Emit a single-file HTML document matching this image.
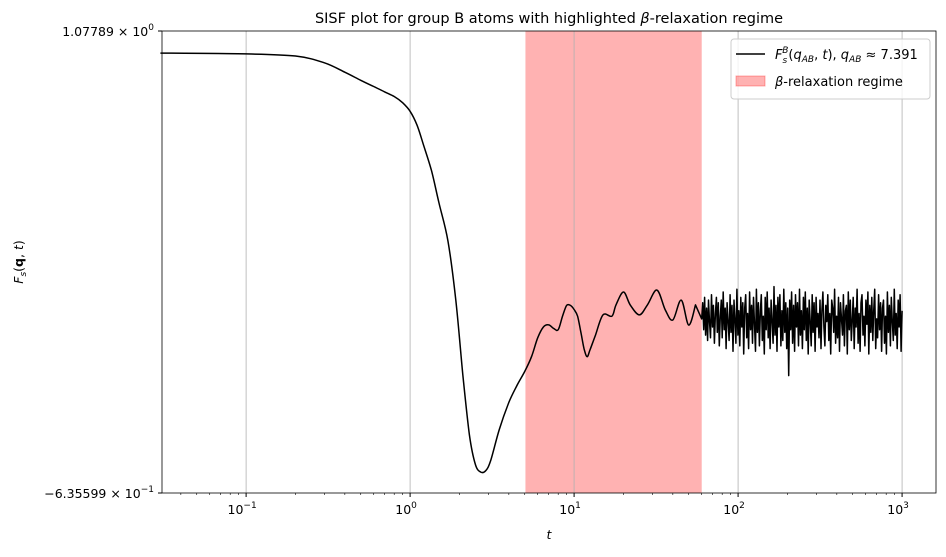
<!DOCTYPE html>
<html><head><meta charset="utf-8"><style>
body{margin:0;background:#fff;font-family:"Liberation Sans","DejaVu Sans",sans-serif}
svg text{font-family:"DejaVu Sans","Liberation Sans",sans-serif}
</style></head><body>
<svg id="c" width="946" height="552"></svg>
<script>
const smoothT=[0.03,0.1,0.2,0.3,0.4,0.5,0.6,0.7,0.8,0.9,1.0,1.1,1.2,1.35,1.5,1.7,1.9,2.1,2.3,2.5,2.7,2.9,3.1,3.5,4.0,4.5,5.0,5.5,6.0,6.5,7.0,7.5,8.0,8.5,9.0,9.5,10.0,10.5,11.0,11.5,12.0,12.5,13.5,15,17,18,20,22,25,28,32,36,40,45,50,55];
const smoothV=[0.996,0.993,0.985,0.960,0.925,0.895,0.872,0.852,0.835,0.812,0.780,0.730,0.660,0.560,0.440,0.300,0.080,-0.200,-0.420,-0.530,-0.558,-0.552,-0.515,-0.400,-0.300,-0.235,-0.185,-0.130,-0.060,-0.020,-0.012,-0.025,-0.030,0.020,0.060,0.060,0.045,0.020,-0.040,-0.100,-0.130,-0.105,-0.050,0.025,0.020,0.062,0.110,0.062,0.025,0.062,0.117,0.043,0.006,0.080,-0.013,0.062];
const noiseV=[0.01,0.07,-0.03,0.09,-0.05,0.05,-0.07,0.08,0.00,-0.06,0.10,-0.02,0.06,-0.08,0.03,0.09,-0.04,0.07,-0.09,0.02,0.08,-0.06,0.11,-0.03,0.05,-0.10,0.07,0.00,-0.07,0.10,-0.04,0.06,-0.11,0.08,0.01,-0.08,0.12,-0.05,0.04,-0.09,0.09,-0.02,0.07,-0.12,0.05,0.10,-0.06,0.03,-0.10,0.11,-0.03,0.06,-0.08,0.09,-0.01,-0.11,0.12,-0.04,0.07,-0.09,0.04,0.10,-0.07,0.02,-0.12,0.09,-0.03,0.11,-0.06,0.05,-0.10,0.08,0.00,-0.08,0.13,-0.05,0.06,-0.11,0.09,-0.02,0.10,-0.09,0.04,-0.07,0.12,-0.04,0.07,-0.10,0.05,-0.20,0.08,-0.03,0.11,-0.08,0.06,-0.11,0.10,-0.02,0.07,-0.09,0.12,-0.05,0.04,-0.10,0.09,-0.03,0.11,-0.07,0.05,-0.12,0.08,0.00,-0.09,0.10,-0.04,0.07,-0.11,0.09,-0.02,0.03,
-0.06,0.08,-0.10,0.04,0.11,-0.02,-0.09,0.06,0.00,0.10,-0.07,0.03,-0.12,0.08,0.05,-0.04,0.12,-0.08,0.02,-0.06,0.09,-0.11,0.07,0.01,-0.05,0.10,-0.09,0.04,0.06,-0.12,0.11,-0.03,0.08,-0.07,0.00,0.09,-0.10,0.05,-0.02,0.12,-0.08,0.03,-0.11,0.07,0.10,-0.05,0.02,-0.09,0.08,-0.01,0.11,-0.12,0.06,-0.04,0.09,-0.07,0.04,0.12,-0.10,0.01,-0.06,0.10,-0.03,0.07,-0.11,0.05,0.08,-0.08,0.02,-0.12,0.11,-0.04,0.06,-0.09,0.09,0.00,-0.07,0.12,-0.05,0.03,-0.10,0.08,-0.02,0.10,-0.11,0.04];
const xTicks=[0.1,1,10,100,1000];
const xTickLabels=["10","10","10","10","10"];
const xTickExp=["−1","0","1","2","3"];
const band=[5.05,60];
const yMin=-0.635599,yMax=1.07789;
const L=162,R=936,T=31,B=493;
const lx0=Math.log10(0.0307),lx1=Math.log10(1610);
const X=t=>L+(Math.log10(t)-lx0)/(lx1-lx0)*(R-L);
const Y=v=>B-(v-yMin)/(yMax-yMin)*(B-T);
const svg=document.getElementById('c');const NS='http://www.w3.org/2000/svg';
function mk(tag,at,p){const e=document.createElementNS(NS,tag);for(const k in at)e.setAttribute(k,at[k]);(p||svg).appendChild(e);return e;}
let e=mk('rect',{x:X(band[0]),y:T,width:X(band[1])-X(band[0]),height:B-T,fill:'#ff0000','fill-opacity':0.3});

xTicks.forEach((t,i)=>{
 let g=mk('line',{x1:X(t),x2:X(t),y1:T,y2:B,stroke:'#b0b0b0','stroke-width':0.8});
 
 let tk=mk('line',{x1:X(t),x2:X(t),y1:B,y2:B+4,stroke:'#000'});
 
 let tx=mk('text',{x:X(t)-4,y:B+21,'font-size':12.5,'text-anchor':'middle'});
 
 tx.textContent=xTickLabels[i];
 let sp=mk('tspan',{dy:-6,'font-size':9},tx);sp.textContent=xTickExp[i];
});
for(let d=-2;d<=3;d++)for(let m=2;m<10;m++){const t=m*Math.pow(10,d);if(t<0.0307||t>1610)continue;
 let mt=mk('line',{x1:X(t),x2:X(t),y1:B,y2:B+2,stroke:'#000','stroke-width':0.6});
 }
// smooth part via Catmull-Rom
const sp=smoothT.map((t,i)=>[X(t),Y(smoothV[i])]);
let d='M'+sp[0][0].toFixed(1)+','+sp[0][1].toFixed(1);
for(let i=0;i<sp.length-1;i++){const p0=sp[Math.max(0,i-1)],p1=sp[i],p2=sp[i+1],p3=sp[Math.min(sp.length-1,i+2)];
 const c1=[p1[0]+(p2[0]-p0[0])/6,p1[1]+(p2[1]-p0[1])/6],c2=[p2[0]-(p3[0]-p1[0])/6,p2[1]-(p3[1]-p1[1])/6];
 d+='C'+c1.map(v=>v.toFixed(1)).join(',')+' '+c2.map(v=>v.toFixed(1)).join(',')+' '+p2.map(v=>v.toFixed(1)).join(',');}
noiseV.forEach((v,i)=>{const t=60*Math.pow(1000/60,i/(noiseV.length-1));d+='L'+X(t).toFixed(1)+','+Y(v).toFixed(1);});
e=mk('path',{d:d,fill:'none',stroke:'#000','stroke-width':1.5,'stroke-linejoin':'round'});

e=mk('rect',{x:L,y:T,width:R-L,height:B-T,fill:'none',stroke:'#000','stroke-width':0.8});

</script>
<svg width="946" height="552" style="position:absolute;left:0;top:0">
<line x1="158" x2="162" y1="31" y2="31" stroke="#000"/>
<line x1="158" x2="162" y1="493" y2="493" stroke="#000"/>
<text x="154" y="36" font-size="12.5" text-anchor="end">1.07789 × 10<tspan dy="-6" font-size="9">0</tspan></text>
<text x="154" y="498" font-size="12.5" text-anchor="end">−6.35599 × 10<tspan dy="-6" font-size="9">−1</tspan></text>
<text x="549" y="23" font-size="14.5" text-anchor="middle">SISF plot for group B atoms with highlighted <tspan font-style="italic">β</tspan>-relaxation regime</text>
<text x="549" y="539" font-size="12.5" font-style="italic" text-anchor="middle">t</text>
<text transform="translate(23,262) rotate(-90)" font-size="12.5" text-anchor="middle"><tspan font-style="italic">F</tspan><tspan font-size="9" dy="3" font-style="italic">s</tspan><tspan dy="-3">(</tspan><tspan font-weight="bold">q</tspan>, <tspan font-style="italic">t</tspan>)</text>
<g>
<rect x="731" y="39" width="199" height="60" rx="3" fill="#fff" fill-opacity="0.8" stroke="#ccc"/>
<line x1="736" x2="765" y1="54" y2="54" stroke="#000" stroke-width="1.5"/>
<text x="775" y="59" font-size="13"><tspan font-style="italic">F</tspan><tspan font-size="9" dy="4" font-style="italic">s</tspan><tspan font-size="9" dx="-5" dy="-10" font-style="italic">B</tspan><tspan dy="6">(</tspan><tspan font-style="italic">q</tspan><tspan font-size="9" dy="3" font-style="italic">AB</tspan><tspan dy="-3">, </tspan><tspan font-style="italic">t</tspan>), <tspan font-style="italic">q</tspan><tspan font-size="9" dy="3" font-style="italic">AB</tspan><tspan dy="-3"> ≈ 7.391</tspan></text>
<rect x="736" y="76" width="29" height="10" fill="#ff0000" fill-opacity="0.3" stroke="#ff0000" stroke-opacity="0.3"/>
<text x="775" y="86" font-size="13"><tspan font-style="italic">β</tspan>-relaxation regime</text>
</g>
</svg>
</body></html>
